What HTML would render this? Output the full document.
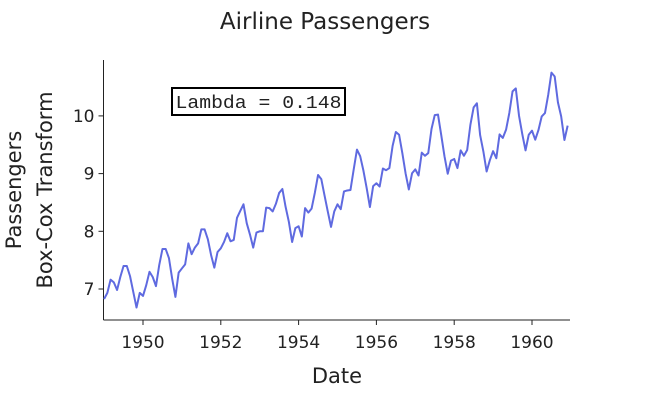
<!DOCTYPE html>
<html><head><meta charset="utf-8"><style>
body{margin:0;background:#fff;}
svg text{font-family:"DejaVu Sans","Liberation Sans",sans-serif;fill:#222;}
</style></head><body>
<svg id="chart" width="650" height="400" xmlns="http://www.w3.org/2000/svg">
<text x="325" y="29" text-anchor="middle" font-size="23">Airline Passengers</text>
<g id="axes"></g>
<path id="line" fill="none" stroke="#5f6ae0" stroke-width="2" stroke-linejoin="round"/>
<rect x="172" y="88" width="173" height="27" fill="#fff" stroke="#000" stroke-width="2"/>
<text x="258.5" y="108" text-anchor="middle" font-size="18" textLength="166" lengthAdjust="spacingAndGlyphs" style="font-family:'Liberation Mono',monospace">Lambda = 0.148</text>
<text x="337" y="383" text-anchor="middle" font-size="21">Date</text>
<text transform="translate(21,190) rotate(-90)" text-anchor="middle" font-size="21"><tspan x="0" dy="0">Passengers</tspan><tspan x="0" dy="31">Box-Cox Transform</tspan></text>
</svg>
<script>
const years=[1949,1950,1951,1952,1953,1954,1955,1956,1957,1958,1959,1960];
const passengers=[112,118,132,129,121,135,148,148,136,119,104,118,
115,126,141,135,125,149,170,170,158,133,114,140,
145,150,178,163,172,178,199,199,184,162,146,166,
171,180,193,181,183,218,230,242,209,191,172,194,
196,196,236,235,229,243,264,272,237,211,180,201,
204,188,235,227,234,264,302,293,259,229,203,229,
242,233,267,269,270,315,364,347,312,274,237,278,
284,277,317,313,318,374,413,405,355,306,271,306,
315,301,356,348,355,422,465,467,404,347,305,336,
340,318,362,348,363,435,491,505,404,359,310,337,
360,342,406,396,420,472,548,559,463,407,362,405,
417,391,419,461,472,535,622,606,508,461,390,432];
const lambda=0.148;
const xTicks=[1950,1952,1954,1956,1958,1960];
const yTicks=[7,8,9,10];
const L=103.5,R=570,T=60,B=320;
const x=t=>143+(t-1950)*38.9;
const y=v=>289-(v-7)*57.7;
const NS="http://www.w3.org/2000/svg";
const ax=document.getElementById('axes');
function mk(tag,attrs){const e=document.createElementNS(NS,tag);for(const k in attrs)e.setAttribute(k,attrs[k]);ax.appendChild(e);return e;}
let e=mk('line',{x1:L,y1:T,x2:L,y2:B,stroke:'#222','stroke-width':1});


e=mk('line',{x1:L,y1:B,x2:R,y2:B,stroke:'#222','stroke-width':1});


xTicks.forEach(t=>{const px=x(t);
 let tk=mk('line',{x1:px,y1:B,x2:px,y2:B+5,stroke:'#222'});
 
 
 let tx=mk('text',{x:px,y:B+28,'text-anchor':'middle','font-size':17});tx.textContent=t;
 
 });
yTicks.forEach(t=>{const py=y(t);
 let tk=mk('line',{x1:L-5,y1:py,x2:L,y2:py,stroke:'#222'});
 
 
 let tx=mk('text',{x:L-9,y:py+6,'text-anchor':'end','font-size':17});tx.textContent=t;
 
 });
let d='';
passengers.forEach((p,i)=>{const t=years[0]+i/12;const v=(Math.pow(p,lambda)-1)/lambda;
 d+=(i?'L':'M')+x(t).toFixed(2)+','+y(v).toFixed(2);});
document.getElementById('line').setAttribute('d',d);
</script>
</body></html>
